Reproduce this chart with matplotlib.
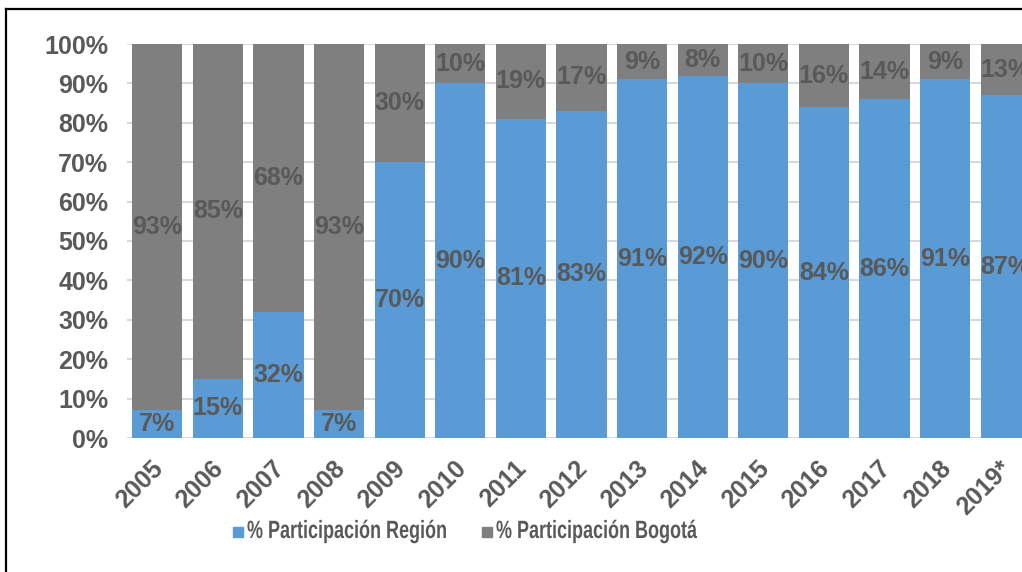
import numpy as np
import matplotlib.pyplot as plt
import matplotlib.transforms as mtrans
import matplotlib.patheffects as pe
from matplotlib.lines import Line2D
from matplotlib.patches import Rectangle

years = ["2005", "2006", "2007", "2008", "2009", "2010", "2011", "2012",
         "2013", "2014", "2015", "2016", "2017", "2018", "2019*"]
region = [7, 15, 32, 7, 70, 90, 81, 83, 91, 92, 90, 84, 86, 91, 87]
bogota = [93, 85, 68, 93, 30, 10, 19, 17, 9, 8, 10, 16, 14, 9, 13]
series_names = ["% Participación Región", "% Participación Bogotá"]

BLUE = "#5B9BD5"
GRAY = "#7F7F7F"
TXT = "#595959"

plt.rcParams["font.family"] = ["Liberation Sans", "DejaVu Sans"]
plt.rcParams["font.weight"] = "bold"
FS = 18


class SqueezeX(pe.AbstractPathEffect):
    """Draw text narrower (condensed) by scaling glyphs horizontally."""

    def __init__(self, sx):
        super().__init__()
        self.sx = sx

    def draw_path(self, renderer, gc, tpath, affine, rgbFace=None):
        renderer.draw_path(gc, tpath, mtrans.Affine2D().scale(self.sx, 1) + affine,
                           rgbFace)


fig = plt.figure(figsize=(10.22, 5.72), dpi=100)
ax = fig.add_axes([127 / 1022, 134 / 572, 909 / 1022, 394 / 572])

x = np.arange(len(years))
w = 0.83
b1 = ax.bar(x, region, w, color=BLUE, zorder=2)
b2 = ax.bar(x, bogota, w, bottom=region, color=GRAY, zorder=2)

for bars, vals in ((b1, region), (b2, bogota)):
    for rect, v in zip(bars, vals):
        cx = rect.get_x() + rect.get_width() / 2
        cy = rect.get_y() + rect.get_height() / 2
        ax.text(cx, cy, f"{v}%", ha="center", va="center", color=TXT,
                fontsize=FS, fontweight="bold", zorder=3)

ax.set_xlim(-0.5, len(years) - 0.5)
ax.set_ylim(0, 100)
ax.set_yticks(range(0, 101, 10))
ax.set_yticklabels([f"{t}%" for t in range(0, 101, 10)])
ax.yaxis.grid(True, color="#D9D9D9", linewidth=1.5, zorder=0)
ax.set_axisbelow(True)
for s in ax.spines.values():
    s.set_visible(False)
ax.tick_params(axis="y", length=0, pad=13.5, labelsize=FS, labelcolor=TXT)
ax.tick_params(axis="x", length=0, pad=6, labelsize=FS, labelcolor=TXT)
ax.set_xticks(x)
ax.set_xticklabels(years, rotation=45, ha="right", va="center",
                   rotation_mode="anchor")
offset = mtrans.ScaledTranslation(0.02, -0.18, fig.dpi_scale_trans)
for lbl in ax.get_xticklabels():
    lbl.set_transform(lbl.get_transform() + offset)

# legend: small squares + condensed labels
W, H = 1022, 572
for (sq_x, tx_x), col, name in zip(((233, 247), (482, 496)), (BLUE, GRAY), series_names):
    fig.add_artist(Rectangle((sq_x / W, 1 - 537 / H), 10 / W, 10 / H, color=col,
                             transform=fig.transFigure))
    fig.text(tx_x / W, 1 - 531 / H, name, ha="left", va="center", color=TXT,
             fontsize=FS, fontweight="bold", path_effects=[SqueezeX(0.72)])

# page frame around the chart
fig.add_artist(Line2D([6 / W, 1], [1 - 9 / H, 1 - 9 / H], color="black",
                      linewidth=1.6, transform=fig.transFigure))
fig.add_artist(Line2D([6 / W, 6 / W], [0, 1 - 9 / H], color="black",
                      linewidth=1.6, transform=fig.transFigure))

fig.savefig("out.png", dpi=100)
